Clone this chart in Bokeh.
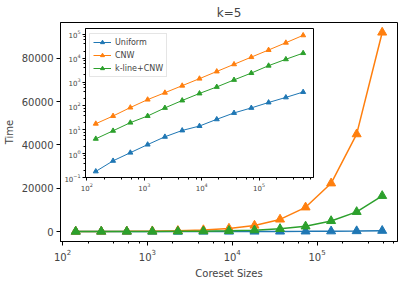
import math
from bokeh.plotting import figure
from bokeh.models import (Range1d, LogScale, LogAxis, LogTicker, FixedTicker,
                          BasicTickFormatter, Legend, LegendItem)
from bokeh.embed import file_html
from bokeh.resources import INLINE

# ---- data ----
sizes = [143, 286, 572, 1144, 2288, 4576, 9152, 18304, 36608, 73216, 146432, 292864, 585728]
uniform = [0.18, 0.5, 1.1, 2.4, 5.1, 9.4, 14.4, 27.6, 51, 83, 140, 229, 385]
cnw = [18, 38, 86, 185, 360, 710, 1400, 2800, 5600, 11200, 22300, 45000, 92000]
kline_cnw = [4.2, 9.1, 20, 38, 83, 170, 335, 630, 1240, 2400, 4900, 9100, 16500]
names = ["Uniform", "CNW", "k-line+CNW"]
colors = ["#1f77b4", "#ff7f0e", "#2ca02c"]
y_ticks = [0, 20000, 40000, 60000, 80000]

FONT = "DejaVu Sans"
FW, FH = 337, 219

p = figure(frame_width=FW, frame_height=FH, x_axis_type="log",
           x_range=Range1d(10 ** 1.976, 10 ** 5.948), y_range=Range1d(-4600, 96600),
           output_backend="svg", toolbar_location=None, title="k=5",
           min_border_left=10, min_border_right=5, min_border_top=0, min_border_bottom=0)
p.title.align = "center"
p.title.text_font = FONT
p.title.text_font_size = "12px"
p.title.text_font_style = "normal"
p.title.standoff = 6
p.xgrid.visible = False
p.ygrid.visible = False
p.outline_line_color = "black"
p.outline_line_alpha = 1

for ax in (p.xaxis[0], p.yaxis[0]):
    ax.major_label_text_font = FONT
    ax.major_label_text_font_size = "10px"
    ax.axis_label_text_font = FONT
    ax.axis_label_text_font_size = "10px"
    ax.axis_label_text_font_style = "normal"
    ax.major_tick_out = 4
    ax.major_tick_in = 0
    ax.minor_tick_in = 0
    ax.axis_line_color = "black"
p.xaxis[0].minor_tick_out = 2
p.yaxis[0].minor_tick_out = 0
p.xaxis[0].axis_label = "Coreset Sizes"
p.yaxis[0].axis_label = "Time"
p.xaxis[0].ticker = LogTicker(desired_num_ticks=4)
p.yaxis[0].ticker = FixedTicker(ticks=y_ticks)
p.yaxis[0].formatter = BasicTickFormatter(use_scientific=False)
p.yaxis[0].major_label_standoff = 3
p.yaxis[0].axis_label_standoff = 4
p.xaxis[0].major_label_standoff = 3
p.xaxis[0].axis_label_standoff = 4

series = [uniform, cnw, kline_cnw]
for vals, c in zip(series, colors):
    p.line(sizes, vals, line_color=c, line_width=1.5)
    p.scatter(sizes, vals, marker="triangle", size=9, fill_color=c, line_color=c)

# ---- inset ----
ix_lo, ix_hi = 1.976, 5.948
iy_lo, iy_hi = -1.0, 5.25
box_l, box_r, box_t, box_b = 25, 253, 6, 155  # pixel box inside frame
xpp = (ix_hi - ix_lo) / (box_r - box_l)
ypp = (iy_hi - iy_lo) / (box_b - box_t)
ex0, ex1 = ix_lo - box_l * xpp, ix_hi + (FW - box_r) * xpp
ey1, ey0 = iy_hi + box_t * ypp, iy_lo - (FH - box_b) * ypp
p.extra_x_ranges = {"ix": Range1d(10 ** ex0, 10 ** ex1)}
p.extra_y_ranges = {"iy": Range1d(10 ** ey0, 10 ** ey1)}
p.extra_x_scales = {"ix": LogScale()}
p.extra_y_scales = {"iy": LogScale()}

p.quad(left=[10 ** ix_lo], right=[10 ** ix_hi], bottom=[10 ** iy_lo], top=[10 ** iy_hi],
       x_range_name="ix", y_range_name="iy", fill_color="white", line_color="black",
       line_width=1)

ixax = LogAxis(x_range_name="ix", y_range_name="iy", fixed_location=10 ** iy_lo,
               bounds=(10 ** ix_lo, 10 ** ix_hi), ticker=LogTicker(desired_num_ticks=4))
iyax = LogAxis(x_range_name="ix", y_range_name="iy", fixed_location=10 ** ix_lo,
               bounds=(10 ** iy_lo, 10 ** iy_hi), ticker=LogTicker(desired_num_ticks=8))
for ax in (ixax, iyax):
    ax.major_label_text_font = FONT
    ax.major_label_text_font_size = "7px"
    ax.major_tick_out = 3
    ax.major_tick_in = 0
    ax.minor_tick_out = 2
    ax.minor_tick_in = 0
    ax.major_label_standoff = 2
    ax.axis_line_color = "black"
p.add_layout(ixax, "below")
p.add_layout(iyax, "left")

items = []
for vals, c, n in zip(series, colors, names):
    r1 = p.line(sizes, vals, line_color=c, line_width=1, x_range_name="ix", y_range_name="iy")
    r2 = p.scatter(sizes, vals, marker="triangle", size=5, fill_color=c, line_color=c,
                   x_range_name="ix", y_range_name="iy")
    items.append(LegendItem(label=n, renderers=[r1, r2]))

leg = Legend(items=items, location=(29, 164))
leg.label_text_font = FONT
leg.label_text_font_size = "8px"
leg.glyph_width = 18
leg.glyph_height = 10
leg.label_height = 10
leg.spacing = 3
leg.padding = 3
leg.margin = 0
leg.label_standoff = 4
leg.border_line_color = "#cccccc"
leg.background_fill_alpha = 0.9
p.add_layout(leg, "center")

open("out.html", "w").write(file_html(p, INLINE))
